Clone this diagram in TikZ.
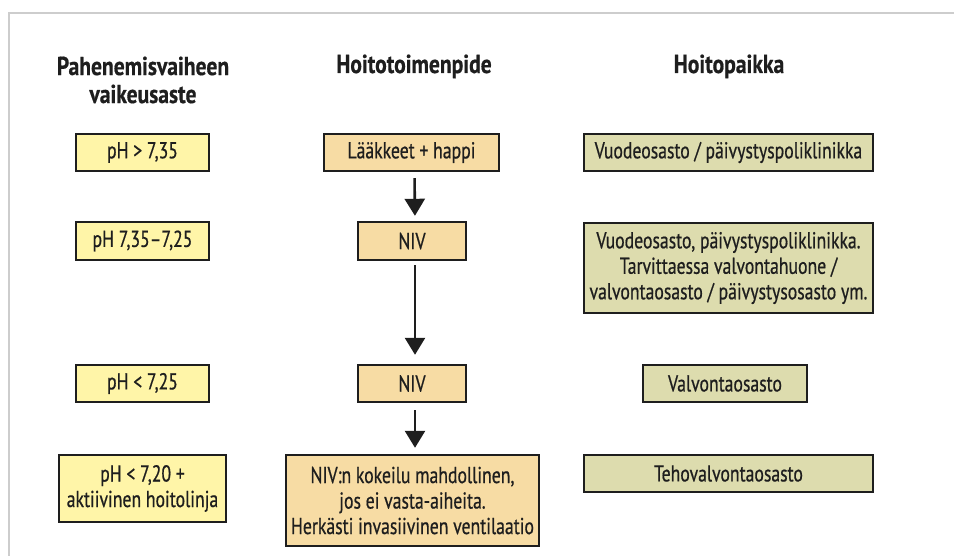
\documentclass[tikz,border=0pt]{standalone}
\usepackage{fontspec}
\setmainfont{PT Sans}[FakeStretch=0.77, FakeBold=0.6]
\newfontfamily\headfont{PT Sans}[FakeStretch=0.83, FakeBold=0.6]
\usetikzlibrary{arrows.meta}
\definecolor{frameg}{HTML}{CDCDCD}
\definecolor{ylw}{HTML}{FFF5A8}
\definecolor{tan}{HTML}{F7DCA4}
\definecolor{khaki}{HTML}{DDDCAE}
\definecolor{ink}{HTML}{1E1E1E}
\tikzset{
  box/.style={draw=ink, line width=2.4pt, inner sep=0pt, align=center, text=ink,
    font=\fontsize{23}{25.5}\selectfont},
  lbox/.style={box, fill=ylw},
  mbox/.style={box, fill=tan},
  rbox/.style={box, fill=khaki},
  head/.style={text=ink, align=center, font=\headfont\fontsize{26}{28}\selectfont\bfseries, inner sep=0pt},
  flow/.style={draw=ink, line width=2.6pt, -{Triangle[width=20pt,length=17pt]}}
}
\begin{document}
\begin{tikzpicture}[x=1pt,y=-1pt]
\useasboundingbox (0,0) rectangle (954,556);
\draw[frameg, line width=2pt] (954,13) -- (9,13) -- (9,556);
% headers
\node[head, anchor=center] (h1) at (143,80) {Pahenemisvaiheen\\vaikeusaste};
\node[head, anchor=base] (h2) at (414,73) {Hoitotoimenpide};
\node[head, anchor=base] (h3) at (729,73) {Hoitopaikka};
% left column
\node[lbox, minimum width=133pt, minimum height=37pt] (l1) at (142.5,152.5) {pH > 7,35};
\node[lbox, minimum width=133pt, minimum height=38pt] (l2) at (142.5,241) {pH 7,35–7,25};
\node[lbox, minimum width=133pt, minimum height=37pt] (l3) at (142.5,383.5) {pH < 7,25};
\node[lbox, minimum width=167pt, minimum height=67pt] (l4) at (142.5,488.5) {pH < 7,20 +\\aktiivinen hoitolinja};
% middle column
\node[mbox, minimum width=175pt, minimum height=37pt] (m1) at (411.5,152.5) {Lääkkeet + happi};
\node[mbox, minimum width=108pt, minimum height=38pt] (m2) at (412,241) {NIV};
\node[mbox, minimum width=108pt, minimum height=37pt] (m3) at (412,383.5) {NIV};
\node[mbox, minimum width=253pt, minimum height=91pt] (m4) at (412.5,500.5) {NIV:n kokeilu mahdollinen,\\jos ei vasta-aiheita.\\Herkästi invasiivinen ventilaatio};
% right column
\node[rbox, minimum width=289pt, minimum height=37pt] (r1) at (728.5,152.5) {Vuodeosasto / päivystyspoliklinikka};
\node[rbox, minimum width=289pt, minimum height=90pt] (r2) at (728.5,268) {Vuodeosasto, päivystyspoliklinikka.\\Tarvittaessa valvontahuone /\\valvontaosasto / päivystysosasto ym.};
\node[rbox, minimum width=164pt, minimum height=37pt] (r3) at (725,383.5) {Valvontaosasto};
\node[rbox, minimum width=289pt, minimum height=37pt] (r4) at (728.5,473.5) {Tehovalvontaosasto};
% arrows
\draw[flow, shorten <=6pt, shorten >=5pt] ([xshift=3pt]m1.south) -- ([xshift=3pt]m2.north);
\draw[flow, shorten <=4pt, shorten >=9pt] ([xshift=3pt]m2.south) -- ([xshift=3pt]m3.north);
\draw[flow, shorten <=7pt, shorten >=6pt] ([xshift=3pt]m3.south) -- ([xshift=2.5pt]m4.north);
\end{tikzpicture}
\end{document}
